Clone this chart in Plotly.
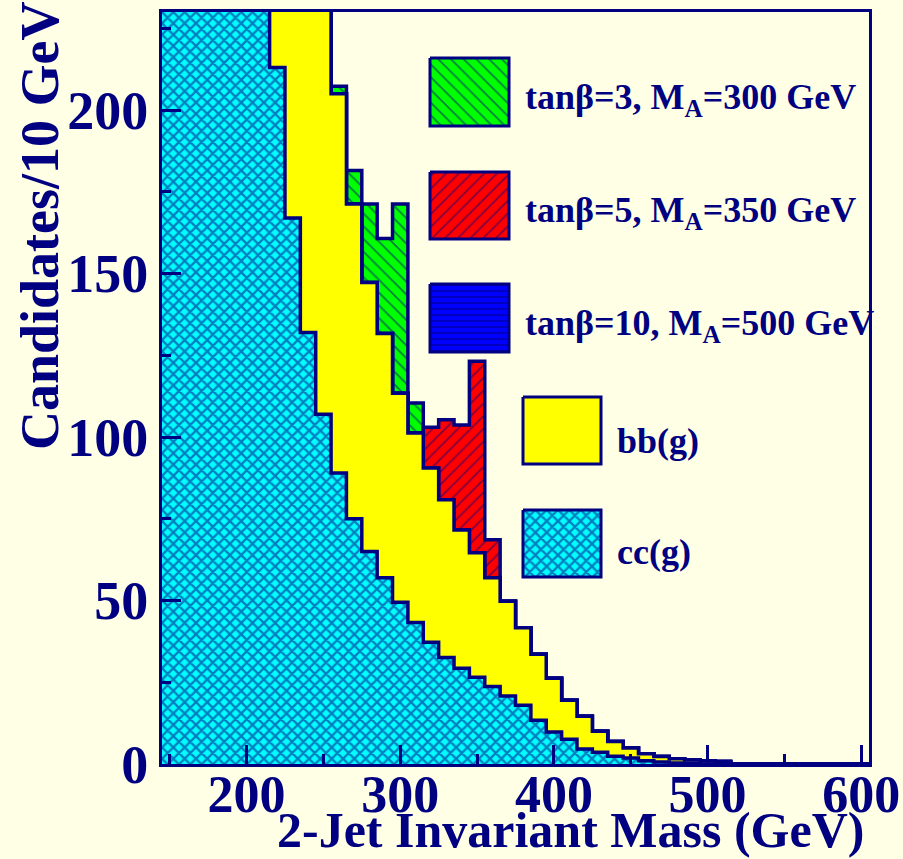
import plotly.graph_objects as go

# ---------------- data (10 GeV bins, lower edges 145 ... 595) ----------------
edges = list(range(145, 606, 10))            # 47 bin edges
cc_g = [470, 430, 390, 350, 310, 275, 245, 213, 167, 132,
        107, 89, 75, 65, 57, 49.5, 43.3, 37.2, 32.6, 29.3,
        26.5, 23.7, 20.8, 18, 13.4, 9.8, 7.6, 4.6, 3.6, 2.4,
        1.8, 1.0, 0.6, 0.3, 0.2, 0, 0, 0, 0, 0,
        0, 0, 0, 0, 0, 0]
bb_g = [180, 175, 170, 165, 160, 150, 140, 135, 130, 128,
        125, 116, 96.3, 82.3, 74.7, 63.9, 57.9, 53.3, 48.2, 42.3,
        38.1, 33.3, 29, 23.7, 20.2, 16.4, 11.9, 10, 6.4, 4.5,
        3.1, 2.1, 1.7, 1.3, 1.0, 0.9, 0.8, 0, 0, 0,
        0, 0, 0, 0, 0, 0]
sig_tb3 = [0, 0, 0, 0, 0, 0, 0, 0, 0, 0,
           0, 2.3, 10.2, 24, 29, 57.9, 9.2, 0, 0, 0,
           0, 0, 0, 0, 0, 0, 0, 0, 0, 0,
           0, 0, 0, 0, 0, 0, 0, 0, 0, 0,
           0, 0, 0, 0, 0, 0]
sig_tb5 = [0, 0, 0, 0, 0, 0, 0, 0, 0, 0,
           0, 0, 0, 0, 0, 0, 0, 12.5, 24.5, 32.1,
           58.6, 11.6, 0, 0, 0, 0, 0, 0, 0, 0,
           0, 0, 0, 0, 0, 0, 0, 0, 0, 0,
           0, 0, 0, 0, 0, 0]
sig_tb10 = [0] * 46

x_ticks = [200, 300, 400, 500, 600]
y_ticks = [0, 50, 100, 150, 200]
legend_labels = ["tanβ=3, M<sub>A</sub>=300 GeV", "tanβ=5, M<sub>A</sub>=350 GeV",
                 "tanβ=10, M<sub>A</sub>=500 GeV", "bb(g)", "cc(g)"]

# ---------------- style ----------------
NAVY = "#000080"
BG = "#FFFFE6"
FONT = "Liberation Serif"
W, H = 903, 859
L, R, T, B = 162, 34, 12, 95

def stack(*arrs):
    return [sum(v) for v in zip(*arrs)]

tot_cc = stack(cc_g)
tot_bb = stack(cc_g, bb_g)
tot_s3 = stack(cc_g, bb_g, sig_tb3)
tot_s5 = stack(cc_g, bb_g, sig_tb5)
tot_s10 = stack(cc_g, bb_g, sig_tb10)

PAT_GREEN = dict(shape="\\", bgcolor="#00FF00", fgcolor=NAVY, size=9, solidity=0.2)
PAT_RED = dict(shape="/", bgcolor="#FF0000", fgcolor=NAVY, size=9, solidity=0.2)
PAT_BLUE = dict(shape="-", bgcolor="#0000FF", fgcolor=NAVY, size=6, solidity=0.35)
PAT_CYAN = dict(shape="x", bgcolor="#00FFFF", fgcolor=NAVY, size=8, solidity=0.5)

def step(vals, color, pattern=None):
    return go.Scatter(
        x=edges, y=list(vals) + [vals[-1]], mode="lines",
        line=dict(shape="hv", color=NAVY, width=3.5),
        fill="tozeroy", fillcolor=color,
        fillpattern=pattern if pattern else dict(shape=""),
        hoverinfo="skip", showlegend=False)

fig = go.Figure()
fig.add_trace(step(tot_s3, "#00FF00", PAT_GREEN))
fig.add_trace(step(tot_s5, "#FF0000", PAT_RED))
fig.add_trace(step(tot_s10, "#0000FF", PAT_BLUE))
fig.add_trace(step(tot_bb, "#FFFF00"))
fig.add_trace(step(tot_cc, "#00FFFF", PAT_CYAN))

# ---------------- legend boxes (pixel-coordinate overlay axes) ----------------
boxes = [
    (430, 509, 58, 126, "#00FF00", PAT_GREEN),
    (430, 509, 172, 239, "#FF0000", PAT_RED),
    (430, 509, 284, 352, "#0000FF", PAT_BLUE),
    (523, 601, 397, 464, "#FFFF00", None),
    (523, 601, 510, 577, "#00FFFF", PAT_CYAN),
]
for x0, x1, y0, y1, col, pat in boxes:
    fig.add_trace(go.Scatter(
        x=[x0, x1, x1, x0, x0], y=[y0, y0, y1, y1, y0], mode="lines",
        line=dict(color=NAVY, width=3), fill="toself", fillcolor=col,
        fillpattern=pat if pat else dict(shape=""),
        xaxis="x2", yaxis="y2", hoverinfo="skip", showlegend=False))

def px(x):
    return (x - L) / (W - L - R)

def py(y):
    return (H - B - y) / (H - T - B)

text_pos = [(523, 99), (523, 212), (523, 326), (615, 441), (615, 552)]
annotations = []
for (tx, ty), lab in zip(text_pos, legend_labels):
    annotations.append(dict(
        text=lab, x=px(tx), y=py(ty), xref="paper", yref="paper",
        xanchor="left", yanchor="middle", showarrow=False,
        font=dict(family=FONT, size=36, color=NAVY, weight="bold")))

annotations.append(dict(
    text="Candidates/10 GeV", x=px(40), y=py(226), xref="paper", yref="paper",
    xanchor="center", yanchor="middle", textangle=-90, showarrow=False,
    font=dict(family=FONT, size=54, color=NAVY, weight="bold")))
annotations.append(dict(
    text="2-Jet Invariant Mass (GeV)", x=px(866), y=py(830), xref="paper", yref="paper",
    xanchor="right", yanchor="middle", showarrow=False,
    font=dict(family=FONT, size=50, color=NAVY, weight="bold")))

axis_common = dict(
    showgrid=False, zeroline=False, showline=True, mirror=True, automargin=False,
    linecolor=NAVY, linewidth=3, ticks="inside", tickcolor=NAVY, tickwidth=3,
    ticklen=19, layer="above traces")

fig.update_layout(
    width=W, height=H,
    margin=dict(l=L, r=R, t=T, b=B, pad=0, autoexpand=False),
    paper_bgcolor=BG, plot_bgcolor=BG,
    showlegend=False,
    xaxis=dict(range=[145, 605], tickvals=x_ticks, ticklabelstandoff=-17,
               tickfont=dict(family=FONT, size=52, color=NAVY, weight="bold"),
               minor=dict(dtick=50, tick0=150, ticks="inside", ticklen=10,
                          tickcolor=NAVY, tickwidth=3, showgrid=False),
               **axis_common),
    yaxis=dict(range=[0, 230], tickvals=y_ticks,
               tickfont=dict(family=FONT, size=54, color=NAVY, weight="bold"),
               minor=dict(dtick=25, tick0=0, ticks="inside", ticklen=9,
                          tickcolor=NAVY, tickwidth=3, showgrid=False),
               **axis_common),
    xaxis2=dict(range=[L, W - R], overlaying="x", visible=False, fixedrange=True),
    yaxis2=dict(range=[H - B, T], overlaying="y", visible=False, fixedrange=True),
    annotations=annotations,
)

fig.write_html("out.html")
